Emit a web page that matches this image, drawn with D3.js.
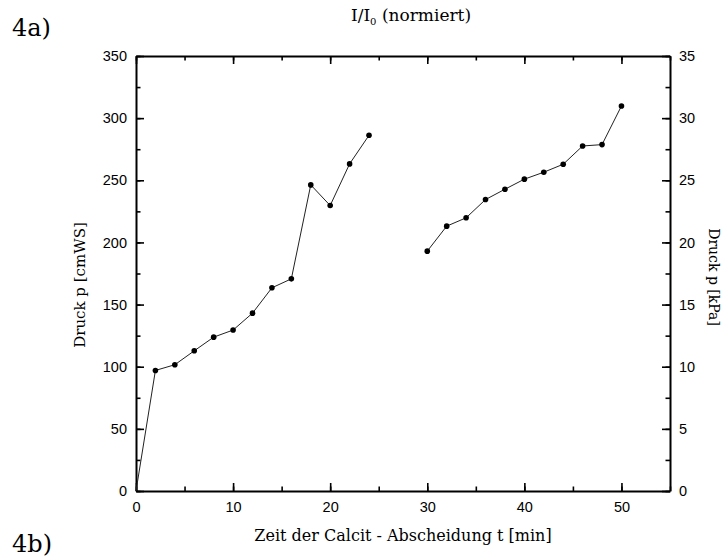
<!DOCTYPE html>
<html>
<head>
<meta charset="utf-8">
<script src="https://cdn.jsdelivr.net/npm/d3@7"></script>
<style>
    body { margin: 0; background: #fff; }
    .tick text { font-family: "Liberation Sans", Arial, sans-serif; font-size: 14.5px; fill: #000; }
    .serif { font-family: "DejaVu Serif", serif; fill: #000; }
</style>
</head>
<body>
<svg id="calcitChart" width="725" height="558"></svg>
<script>
// Messreihe 1 (t in min, p in cmWS)
var times1 = [0, 2, 4, 6, 8, 10, 12, 14, 16, 18, 20, 22, 24];
var pressure1 = [0, 97, 101.6, 112.8, 123.8, 129.5, 143.1, 163.5, 170.7, 246.3, 229.7, 263.2, 286.2];

// Messreihe 2
var times2 = [30, 32, 34, 36, 38, 40, 42, 44, 46, 48, 50];
var pressure2 = [193, 213.1, 219.8, 234.5, 242.8, 250.9, 256.5, 262.9, 277.6, 278.7, 309.8];

// tick labels
var xTicks = [0, 10, 20, 30, 40, 50];
var yTicksLeft = [0, 50, 100, 150, 200, 250, 300, 350];
var yTicksRight = [0, 5, 10, 15, 20, 25, 30, 35];

DrawCalcitChart();

function DrawCalcitChart() {
    // set the dimensions and margins of the graph
    var margin = { top: 56, right: 55, bottom: 67, left: 136 },
        width = 725 - margin.left - margin.right,
        height = 558 - margin.top - margin.bottom;

    var svgRoot = d3.select("#calcitChart");
    var svg = svgRoot.append("g")
        .attr("transform", "translate(" + margin.left + "," + margin.top + ")");

    // set the ranges
    var x = d3.scaleLinear().domain([0, 55]).range([0, width]);
    var y = d3.scaleLinear().domain([0, 350]).range([height, 0]);
    var y2 = d3.scaleLinear().domain([0, 35]).range([height, 0]);

    var series1 = times1.map(function (t, i) { return { t: t, p: pressure1[i] }; });
    var series2 = times2.map(function (t, i) { return { t: t, p: pressure2[i] }; });

    // minor ticks first
    var minorX = d3.range(0, 56, 5);
    var minorY = d3.range(0, 351, 25);
    var minorY2 = d3.range(0, 35.1, 2.5);

    svg.append("g").attr("class", "minor")
        .attr("transform", "translate(0," + height + ")")
        .call(d3.axisBottom(x).tickValues(minorX).tickSize(-4.5).tickFormat(""));
    svg.append("g").attr("class", "minor")
        .call(d3.axisTop(x).tickValues(minorX).tickSize(-4.5).tickFormat(""));
    svg.append("g").attr("class", "minor")
        .call(d3.axisLeft(y).tickValues(minorY).tickSize(-4.5).tickFormat(""));
    svg.append("g").attr("class", "minor")
        .attr("transform", "translate(" + width + ",0)")
        .call(d3.axisRight(y2).tickValues(minorY2).tickSize(-4.5).tickFormat(""));

    // major axes
    svg.append("g")
        .attr("transform", "translate(0," + height + ")")
        .call(d3.axisBottom(x).tickValues(xTicks).tickSize(-8).tickSizeOuter(0).tickPadding(11));
    svg.append("g")
        .call(d3.axisTop(x).tickValues(xTicks).tickSize(-8).tickSizeOuter(0).tickFormat(""));
    svg.append("g")
        .call(d3.axisLeft(y).tickValues(yTicksLeft).tickSize(-8).tickSizeOuter(0).tickPadding(9));
    svg.append("g")
        .attr("transform", "translate(" + width + ",0)")
        .call(d3.axisRight(y2).tickValues(yTicksRight).tickSize(-8).tickSizeOuter(0).tickPadding(9));

    svg.selectAll(".domain").attr("stroke", "#000").attr("stroke-width", 2);
    svg.selectAll(".tick line").attr("stroke", "#000").attr("stroke-width", 1.6);
    svg.selectAll(".minor .domain").remove();

    // the lines
    var valueline = d3.line()
        .x(function (d) { return x(d.t); })
        .y(function (d) { return y(d.p); });

    [series1, series2].forEach(function (s) {
        svg.append("path")
            .attr("d", valueline(s))
            .attr("fill", "none")
            .attr("stroke", "#222")
            .attr("stroke-width", 1);

        svg.selectAll(null)
            .data(s.filter(function (d) { return d.p > 0; }))
            .enter().append("circle")
            .attr("cx", function (d) { return x(d.t); })
            .attr("cy", function (d) { return y(d.p); })
            .attr("r", 2.8)
            .attr("fill", "#000");
    });

    // axis titles
    svgRoot.append("text").attr("class", "serif")
        .attr("x", margin.left + width / 2).attr("y", 541)
        .attr("text-anchor", "middle").style("font-size", "16px")
        .text("Zeit der Calcit - Abscheidung t [min]");

    svgRoot.append("text").attr("class", "serif")
        .attr("transform", "translate(85,285) rotate(-90)")
        .attr("text-anchor", "middle").style("font-size", "15px")
        .text("Druck p [cmWS]");

    svgRoot.append("text").attr("class", "serif")
        .attr("transform", "translate(709,277) rotate(90)")
        .attr("text-anchor", "middle").style("font-size", "14px")
        .text("Druck p [kPa]");

    // header
    var head = svgRoot.append("text").attr("class", "serif")
        .attr("x", 411).attr("y", 21)
        .attr("text-anchor", "middle").style("font-size", "17px");
    head.append("tspan").text("I/I");
    head.append("tspan").attr("dy", 4).style("font-size", "10px").text("0");
    head.append("tspan").attr("dy", -4).text(" (normiert)");

    svgRoot.append("text").attr("class", "serif")
        .attr("x", 12).attr("y", 36).style("font-size", "24px")
        .text("4a)");
    svgRoot.append("text").attr("class", "serif")
        .attr("x", 12).attr("y", 552).style("font-size", "24px")
        .text("4b)");
}
</script>
</body>
</html>
